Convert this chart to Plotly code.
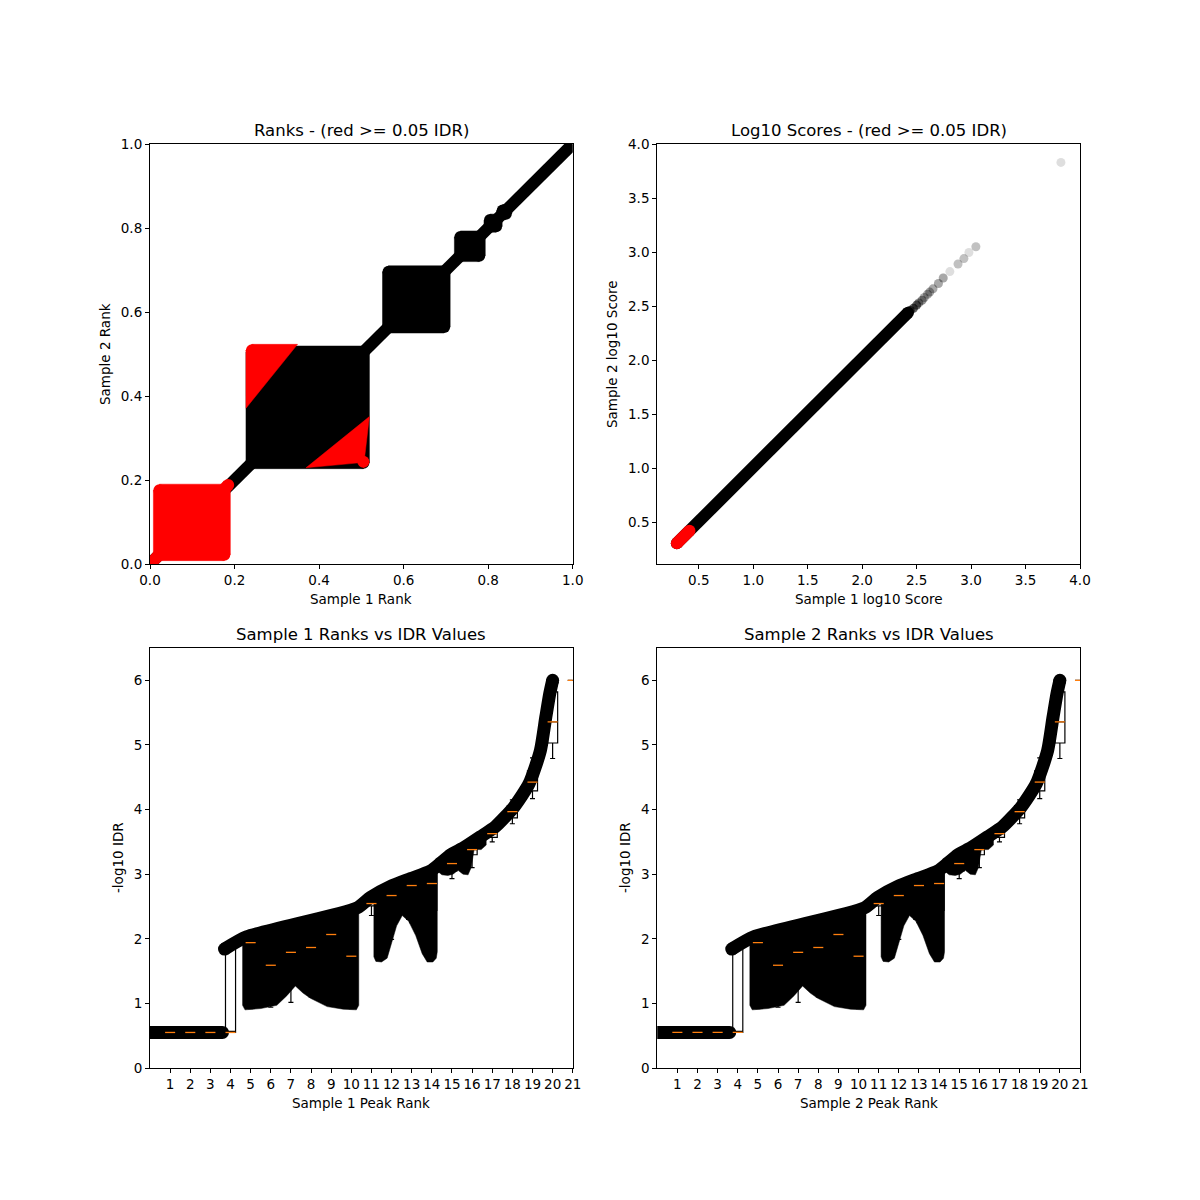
import plotly.graph_objects as go

# ------------------------------------------------------------------
# DATA
# ------------------------------------------------------------------
# Panel 1 : ranks, blocks of tied ranks (outer extent, both axes)
rank_block_lo = [0.008, 0.227, 0.550, 0.720, 0.790, 0.820]
rank_block_hi = [0.190, 0.519, 0.710, 0.793, 0.833, 0.856]
rank_block_high_idr = [True, False, False, False, False, False]
# peaks along the diagonal
rank_diag_s1 = [0.0, 1.0]
rank_diag_s2 = [0.0, 1.0]
rank_diag_red_s1 = [0.0, 0.185]
rank_diag_red_s2 = [0.0, 0.188]
# high-IDR corners of the second block (corner vertex first)
rank_red_tl_s1 = [0.227, 0.227, 0.349]
rank_red_tl_s2 = [0.523, 0.371, 0.523]
rank_red_br_s1 = [0.519, 0.369, 0.519]
rank_red_br_s2 = [0.229, 0.229, 0.351]

# Panel 2 : log10 scores
score_main_s1 = [0.298, 2.420]
score_main_s2 = [0.306, 2.440]
score_red_s1 = [0.298, 0.414]
score_red_s2 = [0.306, 0.423]
score_tail_s1 = [2.44] * 8 + [2.47] * 7 + [2.50] * 6 + [2.52] * 4 + [2.55] * 4 + \
                [2.57] * 3 + [2.60] * 3 + [2.62] * 3 + [2.65] * 3 + [2.70] * 3 + \
                [2.744] * 3 + [2.805, 2.88, 2.88, 2.934, 2.934, 2.98, 3.044, 3.044, 3.825]
score_tail_s2 = [2.46] * 8 + [2.48] * 7 + [2.51] * 6 + [2.53] * 4 + [2.555] * 4 + \
                [2.58] * 3 + [2.61] * 3 + [2.63] * 3 + [2.66] * 3 + [2.71] * 3 + \
                [2.76] * 3 + [2.82, 2.89, 2.89, 2.94, 2.94, 2.996, 3.05, 3.05, 3.83]

# Panels 3/4 : peak rank (x20) vs -log10 IDR
flat_rank = [-0.5, 3.6]
flat_idr = [0.55, 0.55]
curve_rank = [3.70, 4.80, 10.30, 10.95, 11.95, 12.94, 13.94, 14.43, 14.93, 15.59,
              16.42, 17.17, 18.08, 18.83, 19.39, 19.66, 19.86, 20.00]
curve_idr = [1.84, 2.03, 2.48, 2.64, 2.81, 2.93, 3.05, 3.17, 3.30, 3.41,
             3.58, 3.74, 4.04, 4.40, 4.91, 5.43, 5.80, 6.00]
blob1_rank = [4.60, 4.60, 4.72, 5.50, 6.30, 6.80, 7.22, 7.60, 7.97, 8.80, 9.60, 10.25, 10.37, 10.37]
blob1_idr = [2.02, 0.97, 0.90, 0.92, 0.97, 1.12, 1.27, 1.16, 1.08, 0.95, 0.91, 0.90, 0.97, 2.50]
blob2_rank = [11.12, 11.12, 11.22, 11.50, 11.78, 11.95, 12.25, 12.53, 12.85, 13.20,
              13.52, 13.77, 14.05, 14.22, 14.27, 14.27, 14.50, 14.80, 15.05, 15.30,
              15.55, 15.80, 15.95, 16.10, 16.45, 16.70, 16.70]
blob2_idr = [2.62, 1.72, 1.65, 1.64, 1.70, 1.88, 2.20, 2.36, 2.27, 2.05,
             1.77, 1.64, 1.64, 1.70, 1.80, 3.05, 2.99, 2.98, 3.00, 3.06,
             3.00, 2.99, 3.10, 3.38, 3.38, 3.45, 3.62]

box_pos = list(range(1, 22))
box_q1 = [0.55, 0.55, 0.55, 0.55, 1.30, 1.20, 1.35, 1.40, 1.50, 1.00, 2.51,
          2.30, 2.30, 2.44, 3.05, 3.30, 3.57, 3.87, 4.29, 5.03, 6.00]
box_med = [0.55, 0.55, 0.55, 0.55, 1.94, 1.59, 1.79, 1.865, 2.066, 1.73, 2.545,
           2.669, 2.824, 2.855, 3.164, 3.38, 3.627, 3.967, 4.425, 5.358, 6.00]
box_q3 = [0.55, 0.55, 0.55, 1.85, 2.02, 2.00, 2.10, 2.15, 2.25, 2.45, 2.60,
          2.75, 2.95, 3.00, 3.25, 3.43, 3.70, 4.06, 4.60, 5.82, 6.00]
box_lo = [0.55, 0.55, 0.55, 0.55, 0.92, 0.94, 1.015, 1.10, 1.00, 0.92, 2.36,
          1.99, 2.25, 2.10, 2.93, 3.10, 3.50, 3.78, 4.17, 4.79, 6.00]
box_hi = [0.55, 0.55, 0.55, 1.85, 2.05, 2.10, 2.18, 2.25, 2.35, 2.50, 2.65,
          2.80, 3.00, 3.05, 3.35, 3.50, 3.75, 4.15, 4.80, 6.00, 6.00]
peak_rank_ticks = list(range(1, 22))

# ------------------------------------------------------------------
FONT = "DejaVu Sans"
RED = "#ff0000"
R = 0.0142          # marker radius in rank units (panel 1)
fig = go.Figure()

def poly(ax, xs, ys, color):
    fig.add_trace(go.Scatter(x=xs, y=ys, mode="lines", fill="toself", fillcolor=color,
                             line=dict(color=color, width=0.5), xaxis="x" + ax, yaxis="y" + ax,
                             hoverinfo="skip", showlegend=False))

def dots(ax, xs, ys, color, size):
    fig.add_trace(go.Scatter(x=xs, y=ys, mode="markers",
                             marker=dict(color=color, size=size, line=dict(width=0)),
                             xaxis="x" + ax, yaxis="y" + ax, hoverinfo="skip", showlegend=False))

def thick(ax, xs, ys, color, w, ends=True, spline=False):
    fig.add_trace(go.Scatter(x=xs, y=ys, mode="lines",
                             line=dict(color=color, width=w, shape="spline" if spline else "linear",
                                       smoothing=0.6),
                             xaxis="x" + ax, yaxis="y" + ax, hoverinfo="skip", showlegend=False))
    if ends:
        dots(ax, [xs[0], xs[-1]], [ys[0], ys[-1]], color, w)

def rounded_square(lo, hi, color):
    a, b = lo + R, hi - R
    poly("", [lo, a, a, b, b, hi, hi, b, b, a, a, lo, lo],
         [a, a, lo, lo, a, a, b, b, hi, hi, b, b, a], color)
    dots("", [a, b, b, a], [a, a, b, b], color, 12)

# ---- Panel 1 ----
thick("", rank_diag_s1, rank_diag_s2, "black", 12, ends=False)
for lo, hi, red in zip(rank_block_lo, rank_block_hi, rank_block_high_idr):
    rounded_square(lo, hi, RED if red else "black")
for xs, ys in [(rank_red_tl_s1, rank_red_tl_s2), (rank_red_br_s1, rank_red_br_s2)]:
    cx, cy = xs[0], ys[0]
    sx = 1 if cx < 0.4 else -1
    sy = 1 if cy < 0.4 else -1
    poly("", [cx, cx + sx * R, xs[2], xs[1], cx], [cy + sy * R, cy, ys[2], ys[1], cy + sy * R], RED)
    dots("", [cx + sx * R], [cy + sy * R], RED, 12)
thick("", rank_diag_red_s1, rank_diag_red_s2, RED, 12)

# ---- Panel 2 ----
thick("2", score_main_s1, score_main_s2, "black", 12)
thick("2", score_red_s1, score_red_s2, RED, 12)
fig.add_trace(go.Scatter(x=score_tail_s1, y=score_tail_s2, mode="markers",
                         marker=dict(color="black", size=9, opacity=0.13, line=dict(width=0)),
                         xaxis="x2", yaxis="y2", hoverinfo="skip", showlegend=False))

# ---- Panels 3 & 4 ----
for ax in ["3", "4"]:
    thick(ax, flat_rank, flat_idr, "black", 13)
    poly(ax, blob1_rank, blob1_idr, "black")
    poly(ax, blob2_rank, blob2_idr, "black")
    thick(ax, curve_rank, curve_idr, "black", 13, spline=True)
    fig.add_trace(go.Box(x=box_pos, q1=box_q1, median=box_med, q3=box_q3,
                         lowerfence=box_lo, upperfence=box_hi, width=0.5, whiskerwidth=0.5,
                         boxpoints=False, fillcolor="rgba(0,0,0,0)",
                         line=dict(color="black", width=1.2),
                         xaxis="x" + ax, yaxis="y" + ax, hoverinfo="skip", showlegend=False))
    mx, my = [], []
    for p, m in zip(box_pos, box_med):
        mx += [p - 0.25, p + 0.25, None]
        my += [m, m, None]
    fig.add_trace(go.Scatter(x=mx, y=my, mode="lines", line=dict(color="#ff7f0e", width=1.3),
                             xaxis="x" + ax, yaxis="y" + ax, hoverinfo="skip", showlegend=False))

# ---- layout ----
XD = [[0.125, 0.4773], [0.5477, 0.9]]
YD = [[0.53, 0.88], [0.11, 0.46]]

def axis(domain, rng, **kw):
    d = dict(domain=domain, range=rng, showline=True, mirror=True, linecolor="black",
             linewidth=1.1, ticks="outside", ticklen=4, tickwidth=1.1, tickcolor="black",
             showgrid=False, zeroline=False, automargin=False,
             tickfont=dict(family=FONT, size=13.5, color="black"), fixedrange=True)
    d.update(kw)
    return d

lay = dict(width=1200, height=1200, margin=dict(l=0, r=0, t=0, b=0, autoexpand=False),
           paper_bgcolor="white", plot_bgcolor="white", showlegend=False,
           font=dict(family=FONT, size=13.5, color="black"))
lay["xaxis"] = axis(XD[0], [0, 1], anchor="y", tickvals=[0, 0.2, 0.4, 0.6, 0.8, 1.0], tickformat=".1f")
lay["yaxis"] = axis(YD[0], [0, 1], anchor="x", tickvals=[0, 0.2, 0.4, 0.6, 0.8, 1.0], tickformat=".1f")
sc_ticks = [0.5, 1.0, 1.5, 2.0, 2.5, 3.0, 3.5, 4.0]
lay["xaxis2"] = axis(XD[1], [0.118, 4.0], anchor="y2", tickvals=sc_ticks, tickformat=".1f")
lay["yaxis2"] = axis(YD[0], [0.115, 4.0], anchor="x2", tickvals=sc_ticks, tickformat=".1f")
lay["xaxis3"] = axis(XD[0], [0, 21], anchor="y3", tickvals=peak_rank_ticks)
lay["yaxis3"] = axis(YD[1], [0, 6.5], anchor="x3", tickvals=[0, 1, 2, 3, 4, 5, 6])
lay["xaxis4"] = axis(XD[1], [0, 21], anchor="y4", tickvals=peak_rank_ticks)
lay["yaxis4"] = axis(YD[1], [0, 6.5], anchor="x4", tickvals=[0, 1, 2, 3, 4, 5, 6])
fig.update_layout(**lay)

def ann(text, x, y, size=13.5, angle=0):
    fig.add_annotation(text=text, x=x, y=y, xref="paper", yref="paper", showarrow=False,
                       xanchor="center", yanchor="middle", textangle=angle,
                       font=dict(family=FONT, size=size, color="black"))

cx1 = (XD[0][0] + XD[0][1]) / 2
cx2 = (XD[1][0] + XD[1][1]) / 2
ann("Ranks - (red >= 0.05 IDR)", cx1, 1 - 130 / 1200, 16.5)
ann("Log10 Scores - (red >= 0.05 IDR)", cx2, 1 - 130 / 1200, 16.5)
ann("Sample 1 Ranks vs IDR Values", cx1, 1 - 634 / 1200, 16.5)
ann("Sample 2 Ranks vs IDR Values", cx2, 1 - 634 / 1200, 16.5)
ann("Sample 1 Rank", cx1, 1 - 599 / 1200)
ann("Sample 1 log10 Score", cx2, 1 - 599 / 1200)
ann("Sample 1 Peak Rank", cx1, 1 - 1103 / 1200)
ann("Sample 2 Peak Rank", cx2, 1 - 1103 / 1200)
ann("Sample 2 Rank", 105 / 1200, 1 - 354 / 1200, angle=-90)
ann("Sample 2 log10 Score", 612 / 1200, 1 - 354 / 1200, angle=-90)
ann("-log10 IDR", 118 / 1200, 1 - 858 / 1200, angle=-90)
ann("-log10 IDR", 625 / 1200, 1 - 858 / 1200, angle=-90)

fig.write_html("out.html", config={"displayModeBar": False},
               post_script="document.body.style.margin='0';document.body.style.padding='0';")
